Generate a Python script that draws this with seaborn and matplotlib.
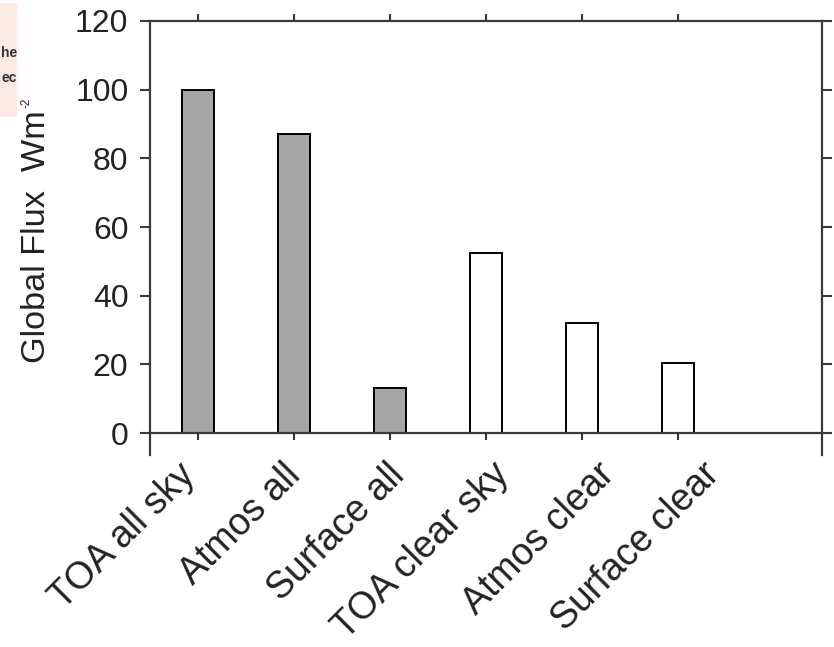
import matplotlib
matplotlib.use("Agg")
import matplotlib.pyplot as plt
import matplotlib.patches as mpatches
import matplotlib.transforms as mtransforms
import seaborn as sns
import pandas as pd

categories = ["TOA all sky", "Atmos all", "Surface all",
              "TOA clear sky", "Atmos clear", "Surface clear"]
flux = [100, 87, 13, 52.5, 32, 20.5]
bar_colors = ["#a6a6a6", "#a6a6a6", "#a6a6a6", "white", "white", "white"]
y_ticks = [0, 20, 40, 60, 80, 100, 120]

sns.set_theme(style="white")
plt.rcParams["font.family"] = ["Liberation Sans", "DejaVu Sans"]

df = pd.DataFrame({"category": categories, "flux": flux})

W, H = 834, 647
fig = plt.figure(figsize=(W / 100, H / 100), dpi=100)
ax = fig.add_axes([150 / W, 1 - 455 / H, (822 - 150) / W, (455 - 21) / H])

sns.barplot(data=df, x="category", y="flux", hue="category",
            palette=bar_colors, legend=False, width=0.33,
            edgecolor="black", linewidth=1.4, ax=ax)

ax.set_xlim(-0.5, 6.5)
ax.set_ylim(-6.4, 120)

spine_col = "#3a3a3a"
for s in ax.spines.values():
    s.set_visible(True)
    s.set_color(spine_col)
    s.set_linewidth(1.6)
# x axis runs along zero; side spines hang a little below it
ax.spines["bottom"].set_position(("data", 0))

ax.set_yticks(y_ticks)
ax.set_yticklabels([str(v) for v in y_ticks])
ax.set_xticks(range(len(categories)))
ax.set_xticklabels(categories)
ax.set_xlabel("")
ax.set_ylabel("")

ax.tick_params(axis="both", which="both", direction="out", width=1.5,
               color=spine_col, labelcolor="#222222")
ax.tick_params(axis="y", left=True, right=True, labelright=False,
               length=7, pad=8.5, labelsize=23)
ax.tick_params(axis="x", top=True, bottom=True, labeltop=False,
               length=5, pad=12, labelsize=27, labelrotation=45)
# category names fan out a little wider than the bar spacing
for i, lab in enumerate(ax.get_xticklabels()):
    lab.set_ha("right")
    lab.set_va("top")
    lab.set_rotation_mode("anchor")
    shift = mtransforms.ScaledTranslation((-21 + 8.8 * i) / 100, 0,
                                          fig.dpi_scale_trans)
    lab.set_transform(lab.get_transform() + shift)

# y-axis title with a small superscript unit exponent
fig.text(37 / W, 1 - 363 / H, "Global Flux  Wm", rotation=90, ha="center",
         va="bottom", fontsize=24.7, color="#222222")
fig.text(27 / W, 1 - 108 / H, "-2", rotation=90, ha="center", va="bottom",
         fontsize=8.5, color="#222222")

# small clipped caption box at the upper left
fig.patches.append(mpatches.Rectangle((0, 1 - 117 / H), 17 / W, 114 / H,
                                      transform=fig.transFigure,
                                      facecolor="#fbeae2", edgecolor="none"))
fig.text(17 / W, 1 - 53 / H, "he", ha="right", va="center", fontsize=10,
         fontweight="bold", color="#333333")
fig.text(17 / W, 1 - 78 / H, "ec", ha="right", va="center", fontsize=10,
         fontweight="bold", color="#333333")

fig.savefig("out.png", dpi=100)
